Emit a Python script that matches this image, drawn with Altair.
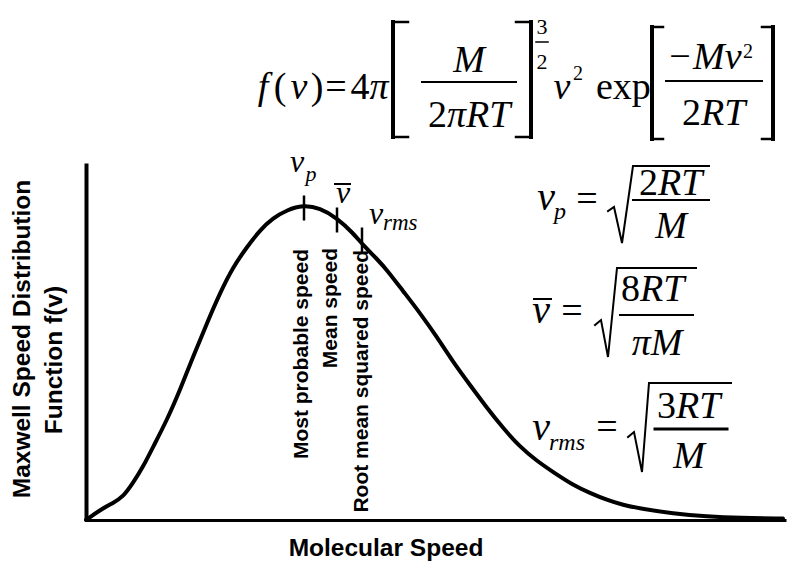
import altair as alt
import pandas as pd

# Maxwell speed distribution: molecular speed (m/s) and f(v) in arbitrary units
speed = [0, 14, 27, 37, 47, 57, 67, 81, 94, 107, 121, 134, 147, 161, 174, 187, 201,
         217, 234, 251, 267, 277, 291, 301, 317, 334, 351, 367, 384, 401, 417, 434,
         451, 467, 487, 504, 521, 537, 554, 587, 621, 654, 697]
density = [0, 10, 17, 23, 37, 53, 73, 100, 130, 163, 197, 227, 253, 273, 290, 302, 310,
           315, 312, 302, 287, 275, 261, 250, 229, 207, 183, 158, 135, 112, 92, 73,
           59, 48, 35, 27, 20, 15, 11.5, 6.5, 3.5, 2, 1.5]

# characteristic speeds marked on the curve
char_names = ["Most probable speed", "Mean speed", "Root mean squared speed"]
char_speed = [218, 251, 276]
char_density = [312, 300, 280]

X_DOMAIN = [0, 700]
Y_DOMAIN = [0, 357]
SERIF = "Liberation Serif"
SANS = "Liberation Sans"

xs = alt.Scale(domain=X_DOMAIN, nice=False, zero=False)
ys = alt.Scale(domain=Y_DOMAIN, nice=False, zero=False)
x_axis = alt.Axis(title=None, ticks=False, labels=False, grid=False,
                  domainColor="black", domainWidth=3)
y_axis = alt.Axis(title=None, ticks=False, labels=False, grid=False,
                  domainColor="black", domainWidth=4)

curve_df = pd.DataFrame({"speed": speed, "f": density})
curve = alt.Chart(curve_df).mark_line(
    color="black", strokeWidth=4, interpolate="basis", strokeCap="round"
).encode(
    x=alt.X("speed:Q", scale=xs, axis=x_axis),
    y=alt.Y("f:Q", scale=ys, axis=y_axis),
)

half = 12.5
tick_df = pd.DataFrame({
    "name": char_names,
    "speed": char_speed,
    "lo": [d - half for d in char_density],
    "hi": [d + half for d in char_density],
})
ticks = alt.Chart(tick_df).mark_rule(color="black", strokeWidth=2.5).encode(
    x=alt.X("speed:Q", scale=xs),
    y=alt.Y("lo:Q", scale=ys),
    y2="hi:Q",
)

# vertical captions under the three speeds
caption_df = pd.DataFrame({
    "label": char_names,
    "x": [215.5, 245, 276],
    "y": [271, 272, 270],
})
captions = alt.Chart(caption_df).mark_text(
    font=SANS, fontSize=21, fontWeight="bold", angle=270, align="right",
    baseline="middle", color="black"
).encode(x=alt.X("x:Q", scale=xs), y=alt.Y("y:Q", scale=ys), text="label:N")


def text_layer(rows, font, italic, align, baseline="alphabetic", weight="normal"):
    df = pd.DataFrame(rows, columns=["label", "x", "y", "size", "angle"])
    return alt.Chart(df).mark_text(
        font=font, fontStyle="italic" if italic else "normal", fontWeight=weight,
        align=align, baseline=baseline, color="black",
    ).encode(
        x=alt.X("x:Q", scale=xs),
        y=alt.Y("y:Q", scale=ys),
        text="label:N",
        size=alt.Size("size:Q", scale=None),
        angle=alt.Angle("angle:Q", scale=None),
    )


italic_center = text_layer([
    ("f", 177, 421, 38, 0), ("v", 213, 421, 38, 0), ("π", 293, 421, 38, 0),
    ("M", 383, 448, 38, 0), ("v", 476, 421, 38, 0),
    ("v", 460, 310, 40, 0), ("p", 474, 301, 24, 0), ("M", 585, 282, 38, 0),
    ("v", 455, 197, 40, 0), ("πM", 571, 165, 38, 0),
    ("v", 455, 80, 40, 0), ("M", 603, 52, 38, 0),
    ("v", 211, 348, 32, 0), ("p", 225, 339, 22, 0),
    ("v", 257, 317, 32, 0), ("v", 290, 296, 32, 0),
], SERIF, True, "center")

italic_left = text_layer([
    ("πRT", 361, 393, 38, 0), ("Mv", 607, 451, 38, 0), ("RT", 615, 395, 38, 0),
    ("RT", 572, 325, 38, 0), ("RT", 554, 219, 38, 0), ("RT", 590, 102, 38, 0),
    ("rms", 463, 70, 24, 0), ("rms", 297, 290, 23, 0),
], SERIF, True, "left")

upright_right = text_layer([
    ("2", 361, 393, 38, 0), ("2", 615, 395, 38, 0), ("2", 572, 325, 38, 0),
    ("8", 554, 219, 38, 0), ("3", 590, 102, 38, 0),
], SERIF, False, "right")

upright_center = text_layer([
    ("(", 194, 421, 38, 0), (")", 231, 421, 38, 0), ("=", 250, 421, 38, 0),
    ("4", 274, 421, 38, 0), ("3", 456, 486, 22, 0), ("2", 456, 451, 22, 0),
    ("2", 492, 440, 20, 0), ("−", 594, 451, 38, 0), ("2", 662, 462, 20, 0),
    ("=", 501, 309, 38, 0), ("=", 486, 197, 38, 0), ("=", 521, 81, 38, 0),
], SERIF, False, "center")

upright_left = text_layer([("exp", 510, 421, 38, 0)], SERIF, False, "left")

titles = text_layer([
    ("Maxwell Speed Distribution", -63, 181, 24.5, 270),
    ("Function f(v)", -31, 160, 24.5, 270),
    ("Molecular Speed", 300, -29, 24.5, 0),
], SANS, False, "center", "middle", "bold")

# pen strokes of the formulas: brackets, fraction bars, radicals, overbars
strokes = [
    # [M / 2πRT]
    ([(307, 498), (307, 383)], 4), ([(307, 498), (322, 498)], 2.5), ([(307, 383), (322, 383)], 2.5),
    ([(336, 438), (430, 438)], 2),
    ([(445, 498), (445, 383)], 4), ([(430, 498), (445, 498)], 2.5), ([(430, 383), (445, 383)], 2.5),
    ([(450, 478), (462, 478)], 1.5),
    # [-Mv² / 2RT]
    ([(566, 493), (566, 381)], 4), ([(566, 493), (577, 493)], 2.5), ([(566, 381), (577, 381)], 2.5),
    ([(580, 439), (676, 439)], 2),
    ([(687, 493), (687, 381)], 4), ([(676, 493), (687, 493)], 2.5), ([(676, 381), (687, 381)], 2.5),
    # v_p = sqrt(2RT/M)
    ([(522, 309), (528, 313), (536, 277), (547, 354), (623, 354)], 2),
    ([(547, 320), (623, 320)], 2),
    # v̄ = sqrt(8RT/πM)
    ([(448, 221), (465, 221)], 2),
    ([(509, 195), (515, 200), (522, 163), (531, 252), (610, 252)], 2),
    ([(534, 205), (607, 205)], 2),
    # v_rms = sqrt(3RT/M)
    ([(542, 83), (548, 88), (556, 48), (563, 137), (645, 137)], 2),
    ([(569, 91), (641, 91)], 3),
    # overbar of v̄ on the curve
    ([(249, 336), (264, 336)], 2),
]
stroke_rows = []
for sid, (pts, w) in enumerate(strokes):
    for k, (px, py) in enumerate(pts):
        stroke_rows.append({"id": sid, "k": k, "x": px, "y": py, "w": w})
stroke_df = pd.DataFrame(stroke_rows)
pen = alt.Chart(stroke_df).mark_line(color="black", strokeCap="square").encode(
    x=alt.X("x:Q", scale=xs),
    y=alt.Y("y:Q", scale=ys),
    detail="id:N",
    order="k:Q",
    size=alt.Size("w:Q", scale=None),
)

chart = alt.layer(
    curve, ticks, captions, pen,
    italic_center, italic_left, upright_right, upright_center, upright_left, titles,
).properties(
    width=700,
    height=357,
    autosize=alt.AutoSizeParams(type="none"),
    padding={"left": 86, "top": 163, "right": 1, "bottom": 43},
    background="white",
).configure_view(stroke=None)

chart.save("out.html", embed_options={"renderer": "svg", "actions": False})
